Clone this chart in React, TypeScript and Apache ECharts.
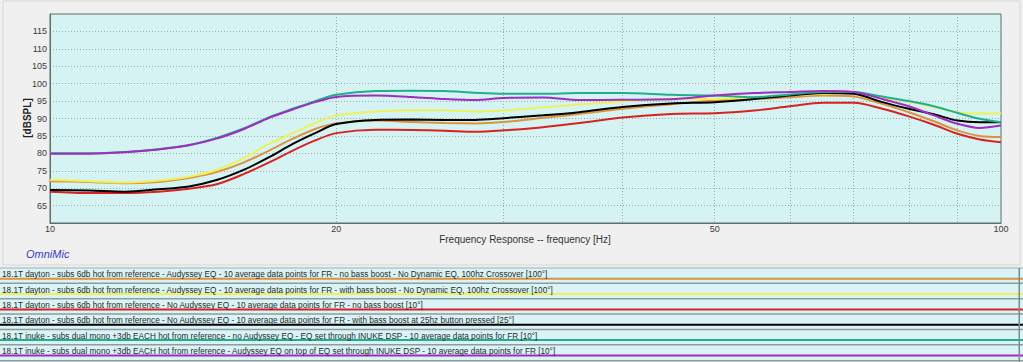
import React, { useEffect, useRef } from "react";
import * as echarts from "echarts";

const freqs = [10, 11, 12, 13, 14, 15, 16, 17, 18, 19, 20, 22, 24, 26, 28, 30, 33, 36, 40, 45, 50, 55, 60, 65, 70, 75, 80, 85, 90, 95, 100];

const orangeVals = [72.0, 71.8, 71.4, 71.8, 72.9, 74.7, 77.4, 80.8, 84.2, 87.0, 88.6, 89.4, 89.0, 88.7, 88.6, 89.0, 90.2, 91.3, 92.8, 94.1, 95.2, 95.6, 96.1, 96.6, 96.3, 94.2, 91.8, 89.2, 86.6, 85.0, 84.7];
const yellowVals = [72.4, 72.0, 71.6, 72.2, 73.3, 75.3, 78.7, 82.7, 85.8, 88.7, 90.9, 92.0, 92.4, 92.4, 92.0, 92.3, 93.2, 94.0, 94.9, 95.7, 95.6, 96.0, 96.6, 97.1, 97.3, 96.1, 94.8, 93.3, 91.8, 91.4, 91.4];
const redVals = [69.0, 68.6, 68.6, 69.0, 69.8, 71.2, 74.1, 77.4, 80.8, 83.7, 85.8, 86.8, 86.7, 86.5, 86.2, 86.6, 87.5, 88.7, 90.3, 91.3, 91.5, 92.3, 93.5, 94.5, 94.5, 92.8, 90.6, 88.2, 85.6, 84.0, 83.2];
const blackVals = [69.5, 69.3, 69.0, 69.7, 70.5, 72.4, 75.3, 78.9, 82.7, 85.8, 88.4, 89.6, 89.7, 89.6, 89.6, 90.1, 90.9, 91.8, 93.3, 94.3, 94.7, 95.6, 96.6, 97.3, 97.1, 94.7, 92.8, 91.2, 89.4, 88.9, 88.9];
const tealVals = [80.0, 80.0, 80.4, 81.2, 82.4, 84.5, 87.2, 90.4, 92.8, 95.0, 96.8, 97.9, 98.0, 97.9, 97.4, 97.1, 97.1, 97.3, 97.3, 96.8, 96.6, 96.1, 96.9, 97.6, 97.6, 96.3, 95.0, 93.5, 91.6, 89.9, 88.9];
const purpleVals = [79.9, 79.9, 80.3, 81.1, 82.3, 84.3, 87.0, 90.2, 92.6, 94.7, 96.2, 96.6, 96.2, 95.6, 95.3, 95.9, 96.0, 95.3, 95.4, 95.5, 96.6, 97.3, 97.6, 97.9, 97.6, 95.6, 93.5, 90.9, 88.5, 87.3, 88.0];

const seriesNames = [
  "18.1T dayton - subs 6db hot from reference - Audyssey EQ - 10 average data points for FR - no bass boost - No Dynamic EQ, 100hz Crossover [100°]",
  "18.1T dayton - subs 6db hot from reference - Audyssey EQ - 10 average data points for FR - with bass boost - No Dynamic EQ, 100hz Crossover [100°]",
  "18.1T dayton - subs 6db hot from reference - No Audyssey EQ - 10 average data points for FR - no bass boost [10°]",
  "18.1T dayton - subs 6db hot from reference - No Audyssey EQ - 10 average data points for FR - with bass boost at 25hz button pressed [25°]",
  "18.1T inuke - subs dual mono +3db EACH hot from reference - no Audyssey EQ - EQ set through INUKE DSP - 10 average data points for FR [10°]",
  "18.1T inuke - subs dual mono +3db EACH hot from reference - Audyssey EQ on top of EQ set through INUKE DSP - 10 average data points for FR [10°]",
];
const seriesColors = ["#dc923e", "#eef25a", "#d82222", "#000000", "#22ad8e", "#a22cbe"];
const seriesVals = [orangeVals, yellowVals, redVals, blackVals, tealVals, purpleVals];

const xLabelValues = [10, 20, 50, 100];
const xGridValues = [10, 20, 30, 40, 50, 60, 70, 80, 90, 100];
const xTitle = "Frequency Response -- frequency [Hz]";
const yTitle = "[dBSPL]";
const brand = "OmniMic";

export default function App() {
  const ref = useRef<HTMLDivElement>(null);
  useEffect(() => {
    if (!ref.current) return;
    const chart = echarts.init(ref.current, null, { renderer: "svg" });
    const font = "'Liberation Sans', Arial, sans-serif";

    const legendGraphics: any[] = [];
    const rowTop0 = 268;
    const rowH = 15.35;
    legendGraphics.push({ type: "rect", shape: { x: 0, y: rowTop0 - 1, width: 1023, height: 362 - rowTop0 + 1 }, style: { fill: "#d9f3f6" }, silent: true });
    seriesNames.forEach((name, i) => {
      const top = rowTop0 + i * rowH;
      legendGraphics.push({ type: "rect", shape: { x: 0, y: top - 0.75, width: 1023, height: 1.5 }, style: { fill: i === 0 ? "#b8c4c4" : "#8f9c9c" }, silent: true });
      legendGraphics.push({ type: "rect", shape: { x: 0, y: top + 9.7, width: 1023, height: 2 }, style: { fill: seriesColors[i] }, silent: true });
      legendGraphics.push({
        type: "text", x: 2, y: top + 6.2, scaleX: 0.865, silent: true,
        style: { text: name, fontSize: 9.5, fontFamily: font, fill: "#2a2a2a", verticalAlign: "middle" },
      });
    });
    legendGraphics.push({ type: "rect", shape: { x: 0, y: 360, width: 1023, height: 1.5 }, style: { fill: "#8f9c9c" }, silent: true });
    legendGraphics.push({ type: "rect", shape: { x: 1018.5, y: 268, width: 1.5, height: 94 }, style: { fill: "#7d8a8a" }, silent: true });

    const option: any = {
      animation: false,
      backgroundColor: "#f0f0f0",
      grid: { left: 50, top: 14, width: 951, height: 209, show: true, backgroundColor: "#d5f3f3", borderColor: "#5e6e6e", borderWidth: 1 },
      xAxis: {
        type: "log", logBase: 10, min: 10, max: 100,
        axisLine: { show: true, lineStyle: { color: "#5e6e6e", width: 1 } },
        axisTick: { show: false, customValues: xGridValues },
        axisLabel: { customValues: xLabelValues, color: "#3a3a3a", fontSize: 9, fontFamily: font, margin: 1 },
        splitLine: { show: true, lineStyle: { color: "#9aacac", type: [1, 2], width: 1 } },
        minorTick: { show: false }, minorSplitLine: { show: false },
      },
      yAxis: {
        type: "value", min: 60, max: 120, interval: 5,
        axisLine: { show: true, lineStyle: { color: "#5e6e6e", width: 1 } },
        axisTick: { show: false },
        axisLabel: { showMinLabel: false, showMaxLabel: false, color: "#3a3a3a", fontSize: 9, fontFamily: font, margin: 3 },
        splitLine: { show: true, lineStyle: { color: "#9aacac", type: [1, 2], width: 1 } },
      },
      series: seriesVals.map((vals, i) => ({
        type: "line", name: seriesNames[i], smooth: 0.3, showSymbol: false, symbol: "none",
        lineStyle: { color: seriesColors[i], width: 2 }, itemStyle: { color: seriesColors[i] },
        data: freqs.map((f, j) => [f, vals[j]]),
        z: 2 + i,
      })),
      graphic: [
        { type: "rect", shape: { x: 3, y: 1, width: 1017, height: 264 }, style: { fill: "none", stroke: "#d6d6d6", lineWidth: 1 }, silent: true },
        { type: "text", x: 525, y: 239, silent: true, style: { text: xTitle, fontSize: 10, fontFamily: font, fill: "#333", align: "center", verticalAlign: "middle" } },
        { type: "text", x: 27, y: 118, rotation: Math.PI / 2, silent: true, style: { text: yTitle, fontSize: 10, fontWeight: "bold", fontFamily: font, fill: "#222", align: "center", verticalAlign: "middle" } },
        { type: "text", x: 26, y: 254, silent: true, style: { text: brand, fontSize: 11, fontStyle: "italic", fontFamily: font, fill: "#3b3bc4", verticalAlign: "middle" } },
        ...legendGraphics,
      ],
    };
    chart.setOption(option);
    return () => chart.dispose();
  }, []);
  return <div ref={ref} style={{ position: "fixed", left: 0, top: 0, width: 1023, height: 362 }} />;
}
